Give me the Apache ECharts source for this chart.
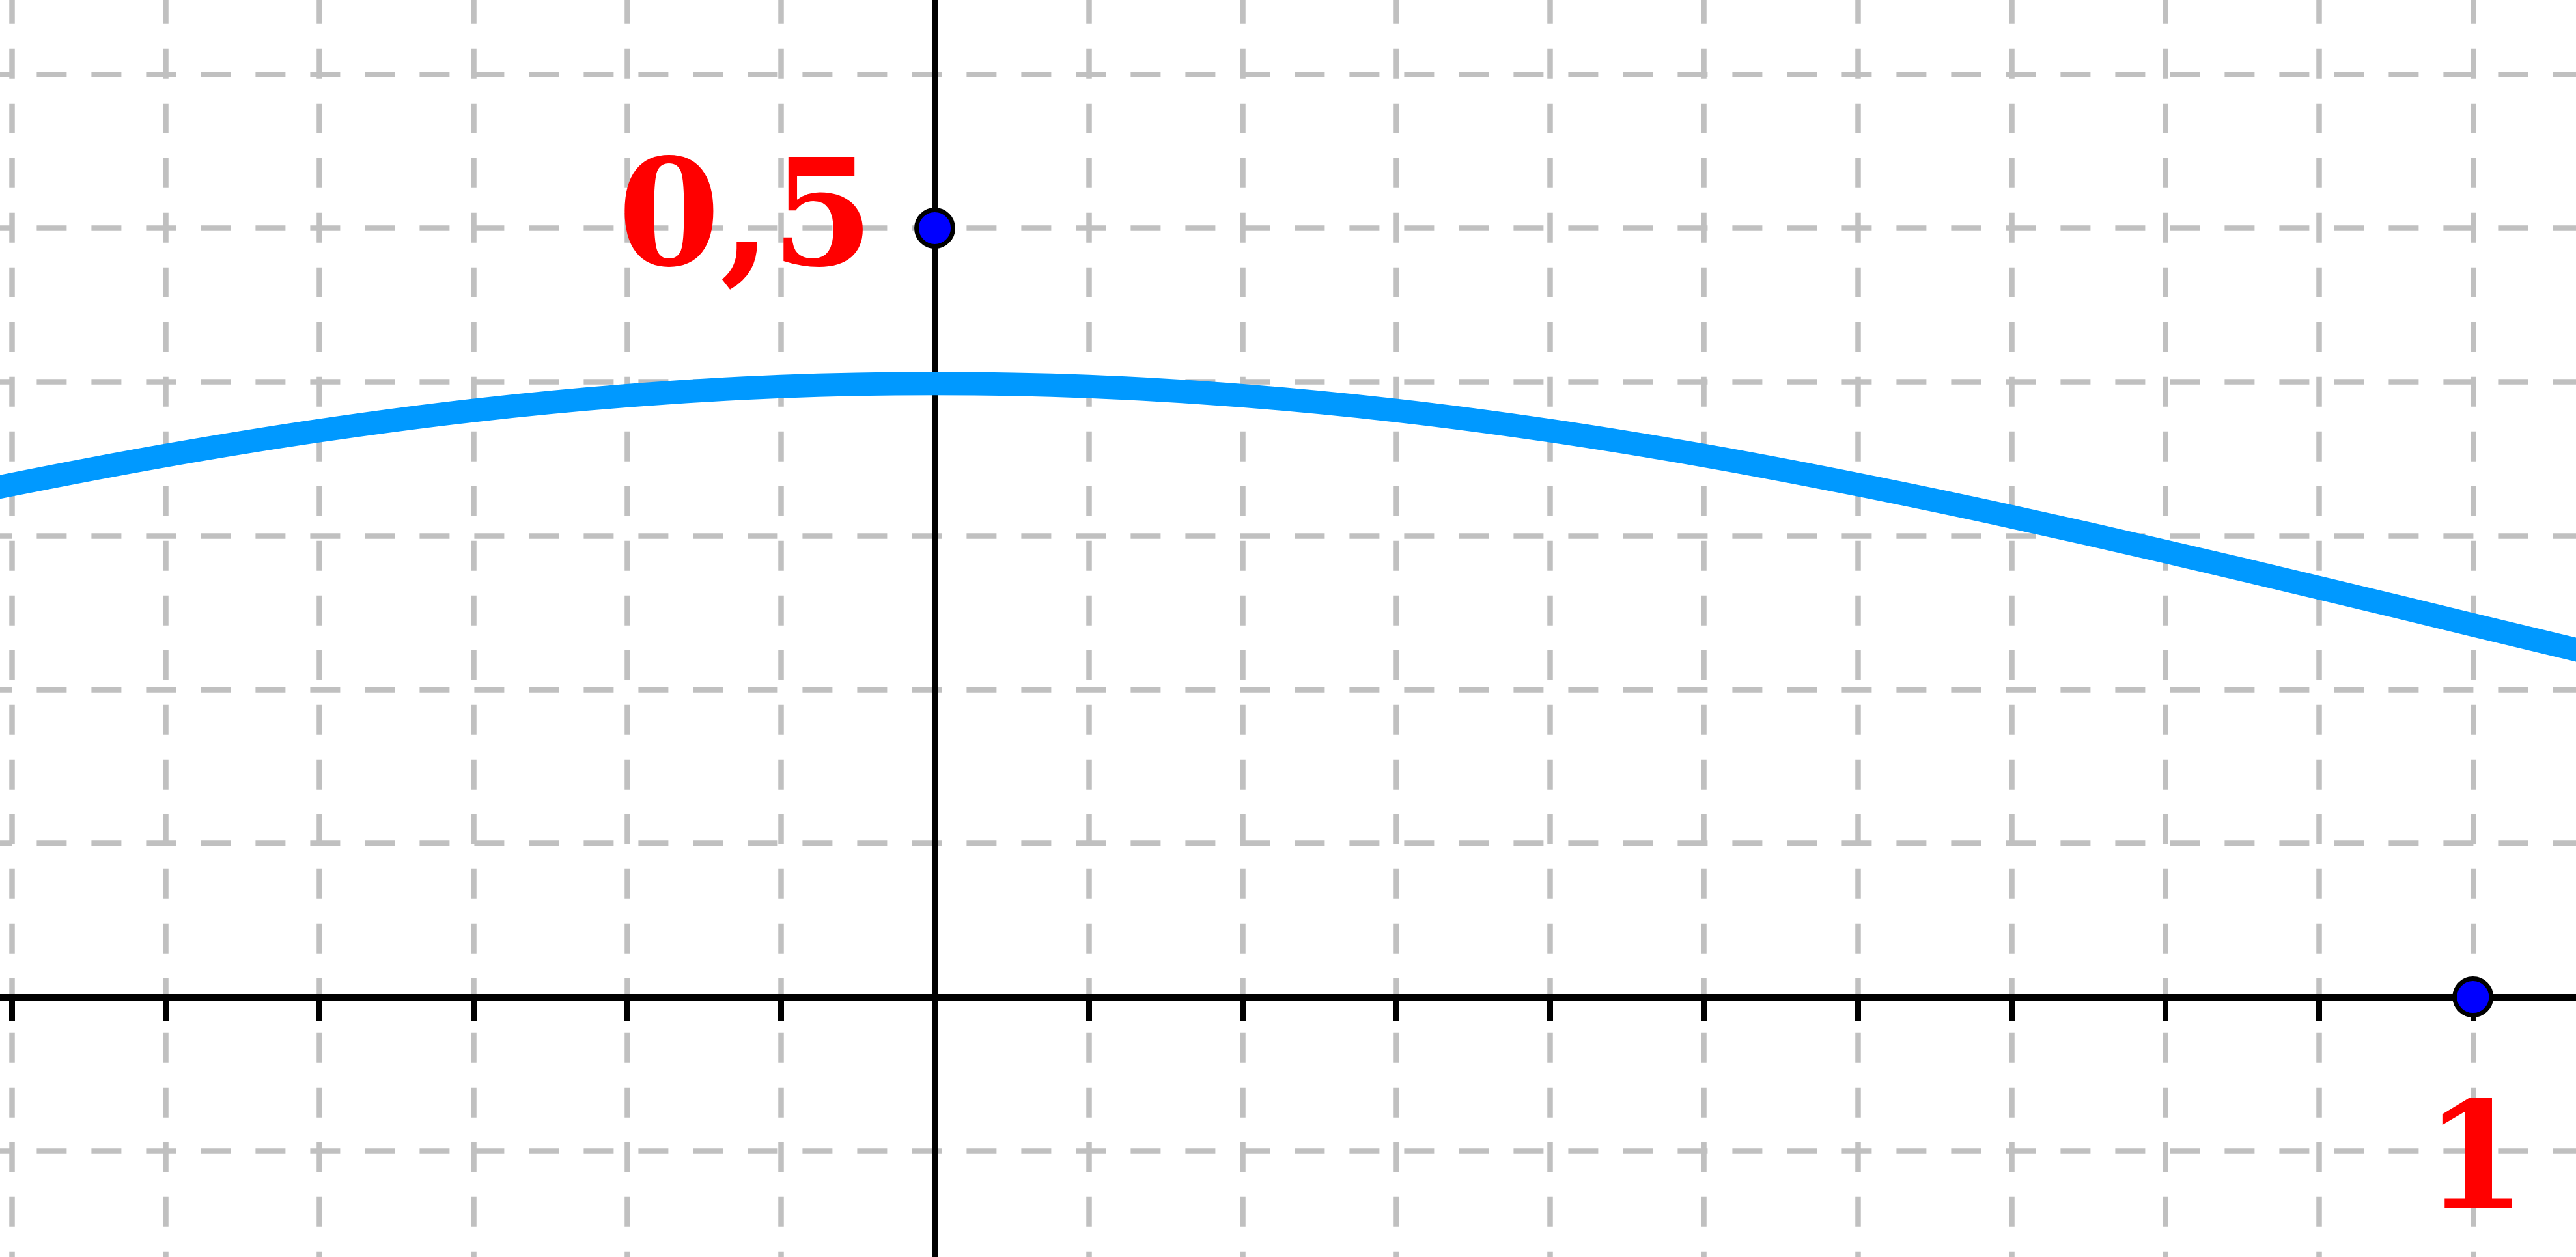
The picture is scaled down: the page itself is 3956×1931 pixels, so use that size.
<!DOCTYPE html>
<html lang="en">
<head>
    <meta charset="UTF-8">
    <title>ECharts</title>
    <script src="https://cdn.jsdelivr.net/npm/echarts@6/dist/echarts.min.js"></script>
    <style>
        html, body { margin: 0; padding: 0; background: #fff; overflow: hidden; width: 3956px; height: 1931px; position: relative; }
        /* the chart is a bit larger than the window, so the grid lines land on multiples of 0.1 */
        #main { position: absolute; left: -218px; top: -122px; }
    </style>
</head>
<body>
<div id="main" style="width: 4252px;height:2126px;"></div>

<script type="text/javascript">
    var myChart = echarts.init(document.getElementById('main'));

    // curve, every 0.1 on x
    var curveX = [-0.7, -0.6, -0.5, -0.4, -0.3, -0.2, -0.1, 0, 0.1, 0.2, 0.3, 0.4, 0.5, 0.6, 0.7, 0.8, 0.9, 1.0, 1.1];
    var curveY = [0.3123, 0.3332, 0.3521, 0.3683, 0.3814, 0.3910, 0.3970, 0.3989, 0.3970, 0.3910, 0.3814, 0.3683,
                  0.3521, 0.3332, 0.3123, 0.2897, 0.2661, 0.2420, 0.2179];

    // the two marked points and their labels
    var pointX = [0, 1];
    var pointY = [0.5, 0];
    var pointLabels = ['0,5', '1'];

    var curveData = [];
    for (var i = 0; i < curveX.length; i++) {
        curveData.push([curveX[i], curveY[i]]);
    }

    var labelFont = {
        show: true,
        color: '#ff0000',
        fontFamily: 'DejaVu Serif',
        fontWeight: 'bold',
        fontSize: 226
    };
    var pointData = [
        { value: [pointX[0], pointY[0]], label: Object.assign({}, labelFont, { formatter: pointLabels[0], position: 'left', distance: 62, offset: [0, -2] }) },
        { value: [pointX[1], pointY[1]], label: Object.assign({}, labelFont, { formatter: pointLabels[1], position: 'bottom', distance: 120, offset: [4, 0] }) }
    ];

    var option = {
        animation: false,
        grid: { left: 0, right: 0, top: 0, bottom: 0 },
        xAxis: {
            type: 'value',
            min: -0.7,
            max: 1.1,
            interval: 0.1,
            axisLine: { onZero: true, lineStyle: { color: '#000', width: 10 } },
            axisTick: { show: true, length: 37, lineStyle: { color: '#000', width: 9 } },
            axisLabel: { show: false },
            splitLine: { show: true, lineStyle: { color: '#c0c0c0', width: 8.5, type: [46, 38], dashOffset: 55.3 } }
        },
        yAxis: {
            type: 'value',
            min: -0.2,
            max: 0.7,
            interval: 0.1,
            axisLine: { onZero: true, lineStyle: { color: '#000', width: 10 } },
            // the y ticks sit under the grey dashes in the original
            axisTick: { show: false },
            axisLabel: { show: false },
            splitLine: { show: true, lineStyle: { color: '#c0c0c0', width: 8.5, type: [46, 38], dashOffset: 61.6 } }
        },
        series: [{
            type: 'line',
            data: curveData,
            smooth: 0.34,
            symbol: 'none',
            lineStyle: { color: '#0099ff', width: 36 },
            z: 3
        }, {
            type: 'scatter',
            data: pointData,
            symbol: 'circle',
            symbolSize: 56,
            itemStyle: { color: '#0000ff', borderColor: '#000', borderWidth: 7, opacity: 1 },
            z: 5
        }]
    };

    myChart.setOption(option);
</script>
</body>
</html>
